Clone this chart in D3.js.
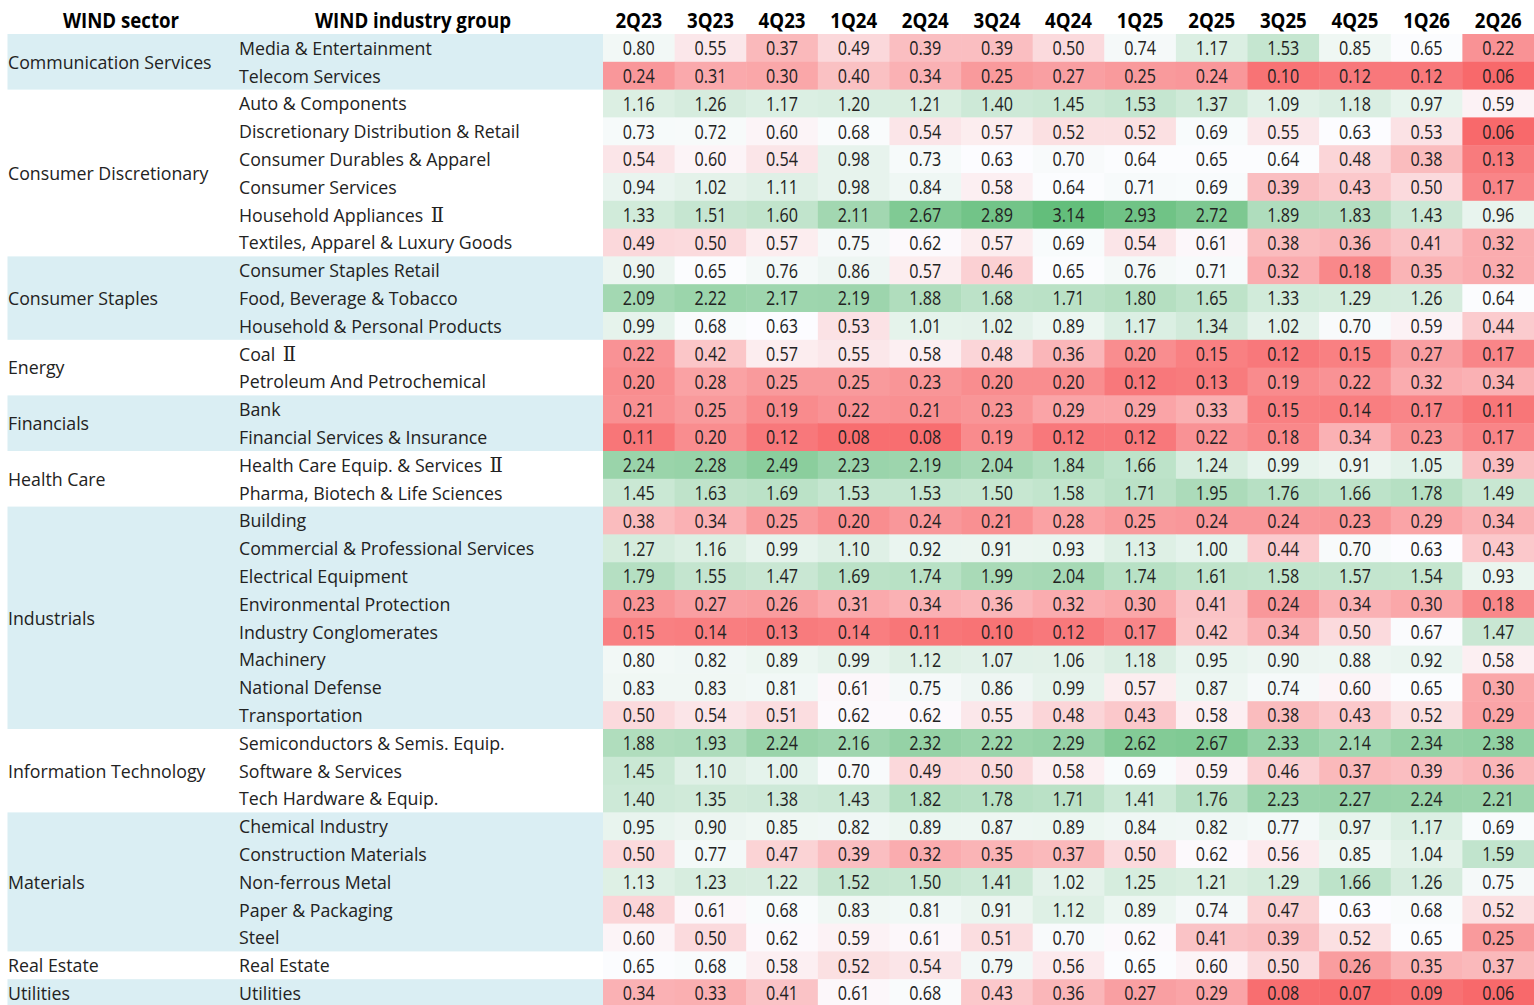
<!DOCTYPE html>
<html>
<head>
<meta charset="utf-8">
<script src="https://cdn.jsdelivr.net/npm/d3@7"></script>
<style>
  html, body { margin: 0; padding: 0; background: #fff; }
  svg text { font-family: "Open Sans", "Noto Sans", sans-serif; }
  .lbl { font-size: 19px; fill: #222; }
  .num { font-size: 20.5px; fill: #222; }
  .hdr { font-size: 21px; font-weight: bold; fill: #000; }
  .roman { font-family: "DejaVu Serif", "Liberation Serif", serif; font-size: 21px; font-weight: normal; }
</style>
</head>
<body>
<svg id="chart" width="1534" height="1005"></svg>
<script>
const quarters = ["2Q23","3Q23","4Q23","1Q24","2Q24","3Q24","4Q24","1Q25","2Q25","3Q25","4Q25","1Q26","2Q26"];
const sectors = ["Communication Services","Consumer Discretionary","Consumer Staples","Energy","Financials","Health Care","Industrials","Information Technology","Materials","Real Estate","Utilities"];
const sectorSizes = [2,6,3,2,2,2,8,3,5,1,1];
const industries = [
  "Media & Entertainment","Telecom Services",
  "Auto & Components","Discretionary Distribution & Retail","Consumer Durables & Apparel","Consumer Services","Household Appliances Ⅱ","Textiles, Apparel & Luxury Goods",
  "Consumer Staples Retail","Food, Beverage & Tobacco","Household & Personal Products",
  "Coal Ⅱ","Petroleum And Petrochemical",
  "Bank","Financial Services & Insurance",
  "Health Care Equip. & Services Ⅱ","Pharma, Biotech & Life Sciences",
  "Building","Commercial & Professional Services","Electrical Equipment","Environmental Protection","Industry Conglomerates","Machinery","National Defense","Transportation",
  "Semiconductors & Semis. Equip.","Software & Services","Tech Hardware & Equip.",
  "Chemical Industry","Construction Materials","Non-ferrous Metal","Paper & Packaging","Steel",
  "Real Estate","Utilities"
];
const values = [
  [0.80,0.55,0.37,0.49,0.39,0.39,0.50,0.74,1.17,1.53,0.85,0.65,0.22],
  [0.24,0.31,0.30,0.40,0.34,0.25,0.27,0.25,0.24,0.10,0.12,0.12,0.06],
  [1.16,1.26,1.17,1.20,1.21,1.40,1.45,1.53,1.37,1.09,1.18,0.97,0.59],
  [0.73,0.72,0.60,0.68,0.54,0.57,0.52,0.52,0.69,0.55,0.63,0.53,0.06],
  [0.54,0.60,0.54,0.98,0.73,0.63,0.70,0.64,0.65,0.64,0.48,0.38,0.13],
  [0.94,1.02,1.11,0.98,0.84,0.58,0.64,0.71,0.69,0.39,0.43,0.50,0.17],
  [1.33,1.51,1.60,2.11,2.67,2.89,3.14,2.93,2.72,1.89,1.83,1.43,0.96],
  [0.49,0.50,0.57,0.75,0.62,0.57,0.69,0.54,0.61,0.38,0.36,0.41,0.32],
  [0.90,0.65,0.76,0.86,0.57,0.46,0.65,0.76,0.71,0.32,0.18,0.35,0.32],
  [2.09,2.22,2.17,2.19,1.88,1.68,1.71,1.80,1.65,1.33,1.29,1.26,0.64],
  [0.99,0.68,0.63,0.53,1.01,1.02,0.89,1.17,1.34,1.02,0.70,0.59,0.44],
  [0.22,0.42,0.57,0.55,0.58,0.48,0.36,0.20,0.15,0.12,0.15,0.27,0.17],
  [0.20,0.28,0.25,0.25,0.23,0.20,0.20,0.12,0.13,0.19,0.22,0.32,0.34],
  [0.21,0.25,0.19,0.22,0.21,0.23,0.29,0.29,0.33,0.15,0.14,0.17,0.11],
  [0.11,0.20,0.12,0.08,0.08,0.19,0.12,0.12,0.22,0.18,0.34,0.23,0.17],
  [2.24,2.28,2.49,2.23,2.19,2.04,1.84,1.66,1.24,0.99,0.91,1.05,0.39],
  [1.45,1.63,1.69,1.53,1.53,1.50,1.58,1.71,1.95,1.76,1.66,1.78,1.49],
  [0.38,0.34,0.25,0.20,0.24,0.21,0.28,0.25,0.24,0.24,0.23,0.29,0.34],
  [1.27,1.16,0.99,1.10,0.92,0.91,0.93,1.13,1.00,0.44,0.70,0.63,0.43],
  [1.79,1.55,1.47,1.69,1.74,1.99,2.04,1.74,1.61,1.58,1.57,1.54,0.93],
  [0.23,0.27,0.26,0.31,0.34,0.36,0.32,0.30,0.41,0.24,0.34,0.30,0.18],
  [0.15,0.14,0.13,0.14,0.11,0.10,0.12,0.17,0.42,0.34,0.50,0.67,1.47],
  [0.80,0.82,0.89,0.99,1.12,1.07,1.06,1.18,0.95,0.90,0.88,0.92,0.58],
  [0.83,0.83,0.81,0.61,0.75,0.86,0.99,0.57,0.87,0.74,0.60,0.65,0.30],
  [0.50,0.54,0.51,0.62,0.62,0.55,0.48,0.43,0.58,0.38,0.43,0.52,0.29],
  [1.88,1.93,2.24,2.16,2.32,2.22,2.29,2.62,2.67,2.33,2.14,2.34,2.38],
  [1.45,1.10,1.00,0.70,0.49,0.50,0.58,0.69,0.59,0.46,0.37,0.39,0.36],
  [1.40,1.35,1.38,1.43,1.82,1.78,1.71,1.41,1.76,2.23,2.27,2.24,2.21],
  [0.95,0.90,0.85,0.82,0.89,0.87,0.89,0.84,0.82,0.77,0.97,1.17,0.69],
  [0.50,0.77,0.47,0.39,0.32,0.35,0.37,0.50,0.62,0.56,0.85,1.04,1.59],
  [1.13,1.23,1.22,1.52,1.50,1.41,1.02,1.25,1.21,1.29,1.66,1.26,0.75],
  [0.48,0.61,0.68,0.83,0.81,0.91,1.12,0.89,0.74,0.47,0.63,0.68,0.52],
  [0.60,0.50,0.62,0.59,0.61,0.51,0.70,0.62,0.41,0.39,0.52,0.65,0.25],
  [0.65,0.68,0.58,0.52,0.54,0.79,0.56,0.65,0.60,0.50,0.26,0.35,0.37],
  [0.34,0.33,0.41,0.61,0.68,0.43,0.36,0.27,0.29,0.08,0.07,0.09,0.06]
];
const headerLabels = ["WIND sector","WIND industry group"];

const svg = d3.select("#chart");
const W = 1534;
const rowTop = 34, rowH = 27.8;
const gridLeft = 603, bandLeft = 7.5;
const x = d3.scaleBand().domain(quarters).range([gridLeft, W]).padding(0);
const y = d3.scaleBand().domain(d3.range(industries.length)).range([rowTop, rowTop + rowH * industries.length]).padding(0);

// horizontal condensing factors, calibrated against the source's text widths
function measure(cls, str) {
  const t = svg.append("text").attr("class", cls).text(str);
  const w = t.node().getComputedTextLength();
  t.remove();
  return w;
}
const sLbl = 193 / measure("lbl", "Media & Entertainment");
const sNum = 32 / measure("num", "0.80");
const sHdr = 196 / measure("hdr", "WIND industry group");

function place(sel, fx, fy, s) {
  sel.attr("transform", (d, i) => `translate(${fx(d, i)},${fy(d, i)}) scale(${s},1)`);
}

// sector groups
let start = 0;
const groups = sectors.map((s, i) => {
  const g = { name: s, start, size: sectorSizes[i], idx: i };
  start += sectorSizes[i];
  return g;
});

// shaded bands for alternating sectors
svg.append("g").selectAll("rect").data(groups.filter(g => g.idx % 2 === 0)).join("rect")
  .attr("x", bandLeft).attr("width", gridLeft - bandLeft)
  .attr("y", g => y(g.start)).attr("height", g => y.bandwidth() * g.size)
  .attr("fill", "#DAEEF3");

// global 3-colour scale (min red, median white, max green)
const all = values.flat();
const color = d3.scaleLinear()
  .domain([d3.min(all), d3.median(all), d3.max(all)])
  .range(["#F8696B", "#FCFCFF", "#63BE7B"])
  .interpolate(d3.interpolateRgb);

const cells = [];
values.forEach((row, i) => row.forEach((v, j) => cells.push({ i, j, v })));

svg.append("g").selectAll("rect").data(cells).join("rect")
  .attr("x", d => x(quarters[d.j])).attr("y", d => y(d.i))
  .attr("width", x.bandwidth() + 0.5).attr("height", y.bandwidth() + 0.5)
  .attr("fill", d => color(d.v));

const nums = svg.append("g").selectAll("text").data(cells).join("text")
  .attr("class", "num")
  .attr("dy", "0.36em")
  .attr("text-anchor", "middle")
  .text(d => d3.format(".2f")(d.v));
place(nums, d => x(quarters[d.j]) + x.bandwidth() / 2, d => y(d.i) + y.bandwidth() / 2, sNum);

// header
const qh = svg.append("g").selectAll("text").data(quarters).join("text")
  .attr("class", "hdr").attr("dy", "0.36em").attr("text-anchor", "middle")
  .text(q => q);
place(qh, q => x(q) + x.bandwidth() / 2, () => 20, sHdr);

const hx = [121, 413];
const lh = svg.append("g").selectAll("text").data(headerLabels).join("text")
  .attr("class", "hdr").attr("dy", "0.36em").attr("text-anchor", "middle")
  .text(d => d);
place(lh, (d, i) => hx[i], () => 20, sHdr);

// sector labels
const sl = svg.append("g").selectAll("text").data(groups).join("text")
  .attr("class", "lbl").attr("dy", "0.36em")
  .text(g => g.name);
place(sl, () => 8, g => y(g.start) + y.bandwidth() * g.size / 2, sLbl);

// industry labels (roman numeral in a serif font as in the source)
const il = svg.append("g").selectAll("text").data(industries).join("text")
  .attr("class", "lbl").attr("dy", "0.36em")
  .each(function(d) {
    const t = d3.select(this);
    const parts = d.split("Ⅱ");
    t.append("tspan").text(parts[0].trim());
    if (parts.length > 1) t.append("tspan").attr("class", "roman").attr("dx", 8).text("Ⅱ");
  });
place(il, () => 239, (d, i) => y(i) + y.bandwidth() / 2, sLbl);
</script>
</body>
</html>
